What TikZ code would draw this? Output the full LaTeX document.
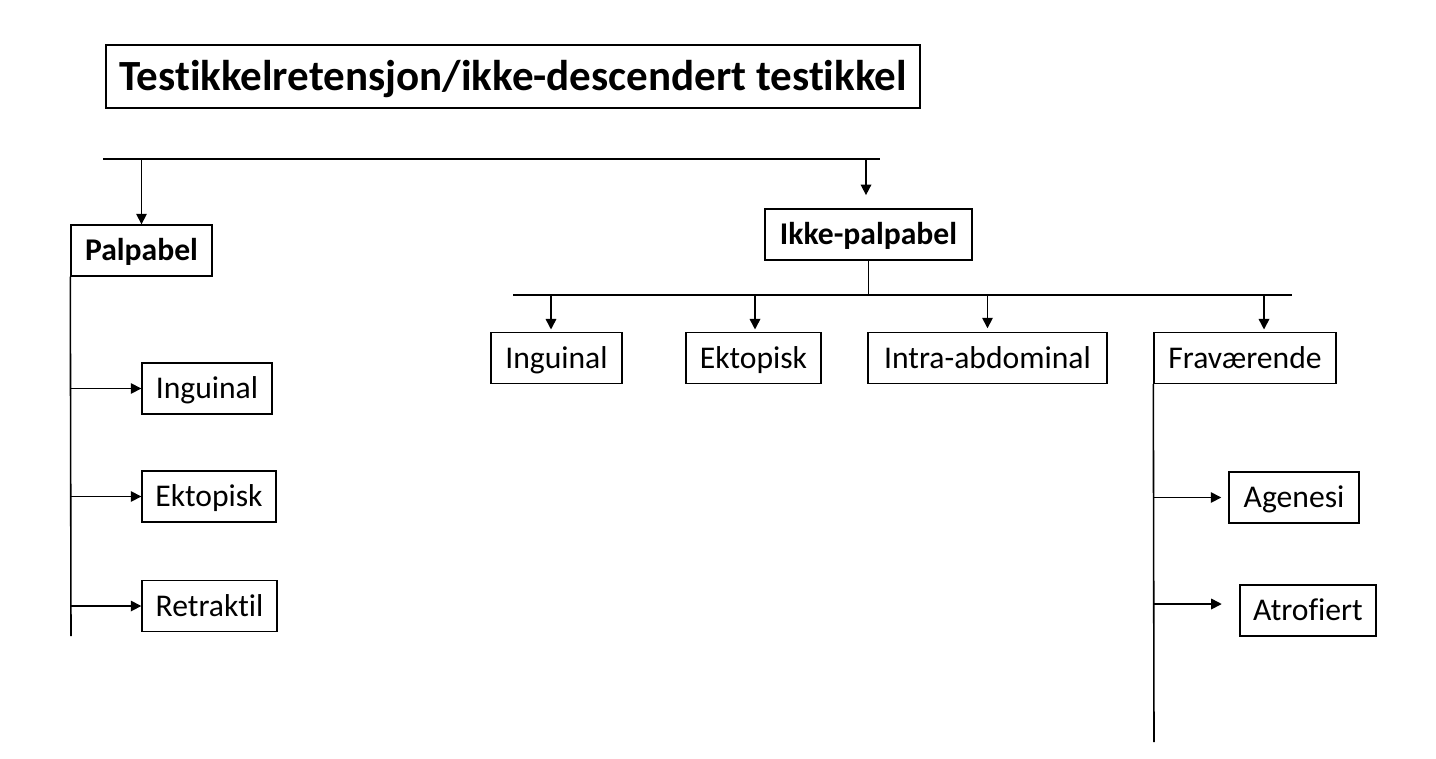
\documentclass[tikz,border=0pt]{standalone}
\usepackage{fontspec}
\setmainfont{Carlito}[RawFeature=-liga]
\usetikzlibrary{arrows.meta}
\begin{document}
\begin{tikzpicture}[x=0.02cm,y=-0.02cm,>={Triangle[length=6pt,width=6pt]},line width=0.9pt,
  box/.style={draw,line width=0.8pt,minimum height=1.02cm,inner sep=2pt,text height=11.6pt,text depth=0pt,font=\fontsize{18}{21}\selectfont},
  headbox/.style={box,font=\bfseries\fontsize{18}{21}\selectfont}]
 \useasboundingbox (0,0) rectangle (1436,758);
 % title
 \node[draw,line width=0.8pt,minimum width=16.28cm,minimum height=1.26cm,text height=15.8pt,text depth=0pt,font=\bfseries\fontsize{24.5}{28}\selectfont] (title) at (513,76.5) {Testikkelretensjon/ikke-descendert testikkel};
 % main split
 \coordinate (barL) at (103,159);
 \coordinate (barR) at (880,159);
 \draw (barL)--(barR);
 \node[headbox,minimum width=2.82cm] (palp) at (141.5,250.5) {Palpabel};
 \node[headbox,minimum width=4.14cm] (ikke) at (868.5,234.5) {Ikke-palpabel};
 \draw[->] (palp.north |- barL)--(palp.north);
 \coordinate (ikkeTop) at (866,159);
 \draw[->,shorten >=7.5pt] (ikkeTop)--(ikkeTop |- ikke.north);
 % palpabel
 \node[box,minimum width=2.6cm] (ing1) at (207,388.5) {Inguinal};
 \node[box,minimum width=2.68cm] (ekt1) at (209,496.5) {Ektopisk};
 \node[box,minimum width=2.7cm] (ret) at (209.5,606) {Retraktil};
 \coordinate (palpEnd) at (71,636);
 \draw (palp.south west)--(palpEnd);
 \foreach \n in {ing1,ekt1,ret}
  \draw[->] (palp.south west |- \n.west)--(\n.west);
 % ikke-palpabel
 \coordinate (subL) at (513,295);
 \coordinate (subR) at (1292,295);
 \draw (ikke.south)--(ikke.south |- subL);
 \draw (subL)--(subR);
 \node[box,minimum width=2.62cm] (ing2) at (556.5,358) {Inguinal};
 \node[box,minimum width=2.7cm] (ekt2) at (753.5,358) {Ektopisk};
 \node[box,minimum width=4.78cm] (intra) at (987.5,358) {Intra-abdominal};
 \node[box,minimum width=3.64cm] (frav) at (1245,358) {Fraværende};
 \draw[->,shorten >=2pt] (551,295)--(551,333);
 \draw[->,shorten >=2pt] (755,295)--(755,333);
 \draw[->,shorten >=2pt] (intra.north |- subL)--(intra.north);
 \draw[->,shorten >=2pt] (1264,295)--(1264,333);
 % fravaerende
 \node[box,minimum width=2.6cm] (agen) at (1294,497.5) {Agenesi};
 \node[box,minimum width=2.72cm] (atro) at (1308,610.5) {Atrofiert};
 \coordinate (fravEnd) at (1154,742);
 \draw (frav.south west)--(fravEnd);
 \draw[->,shorten >=4pt] (frav.south west |- agen.west)--(agen.west);
 \draw[->,shorten >=10pt] (frav.south west |- 0,604)--(atro.west |- 0,604);
\end{tikzpicture}
\end{document}
